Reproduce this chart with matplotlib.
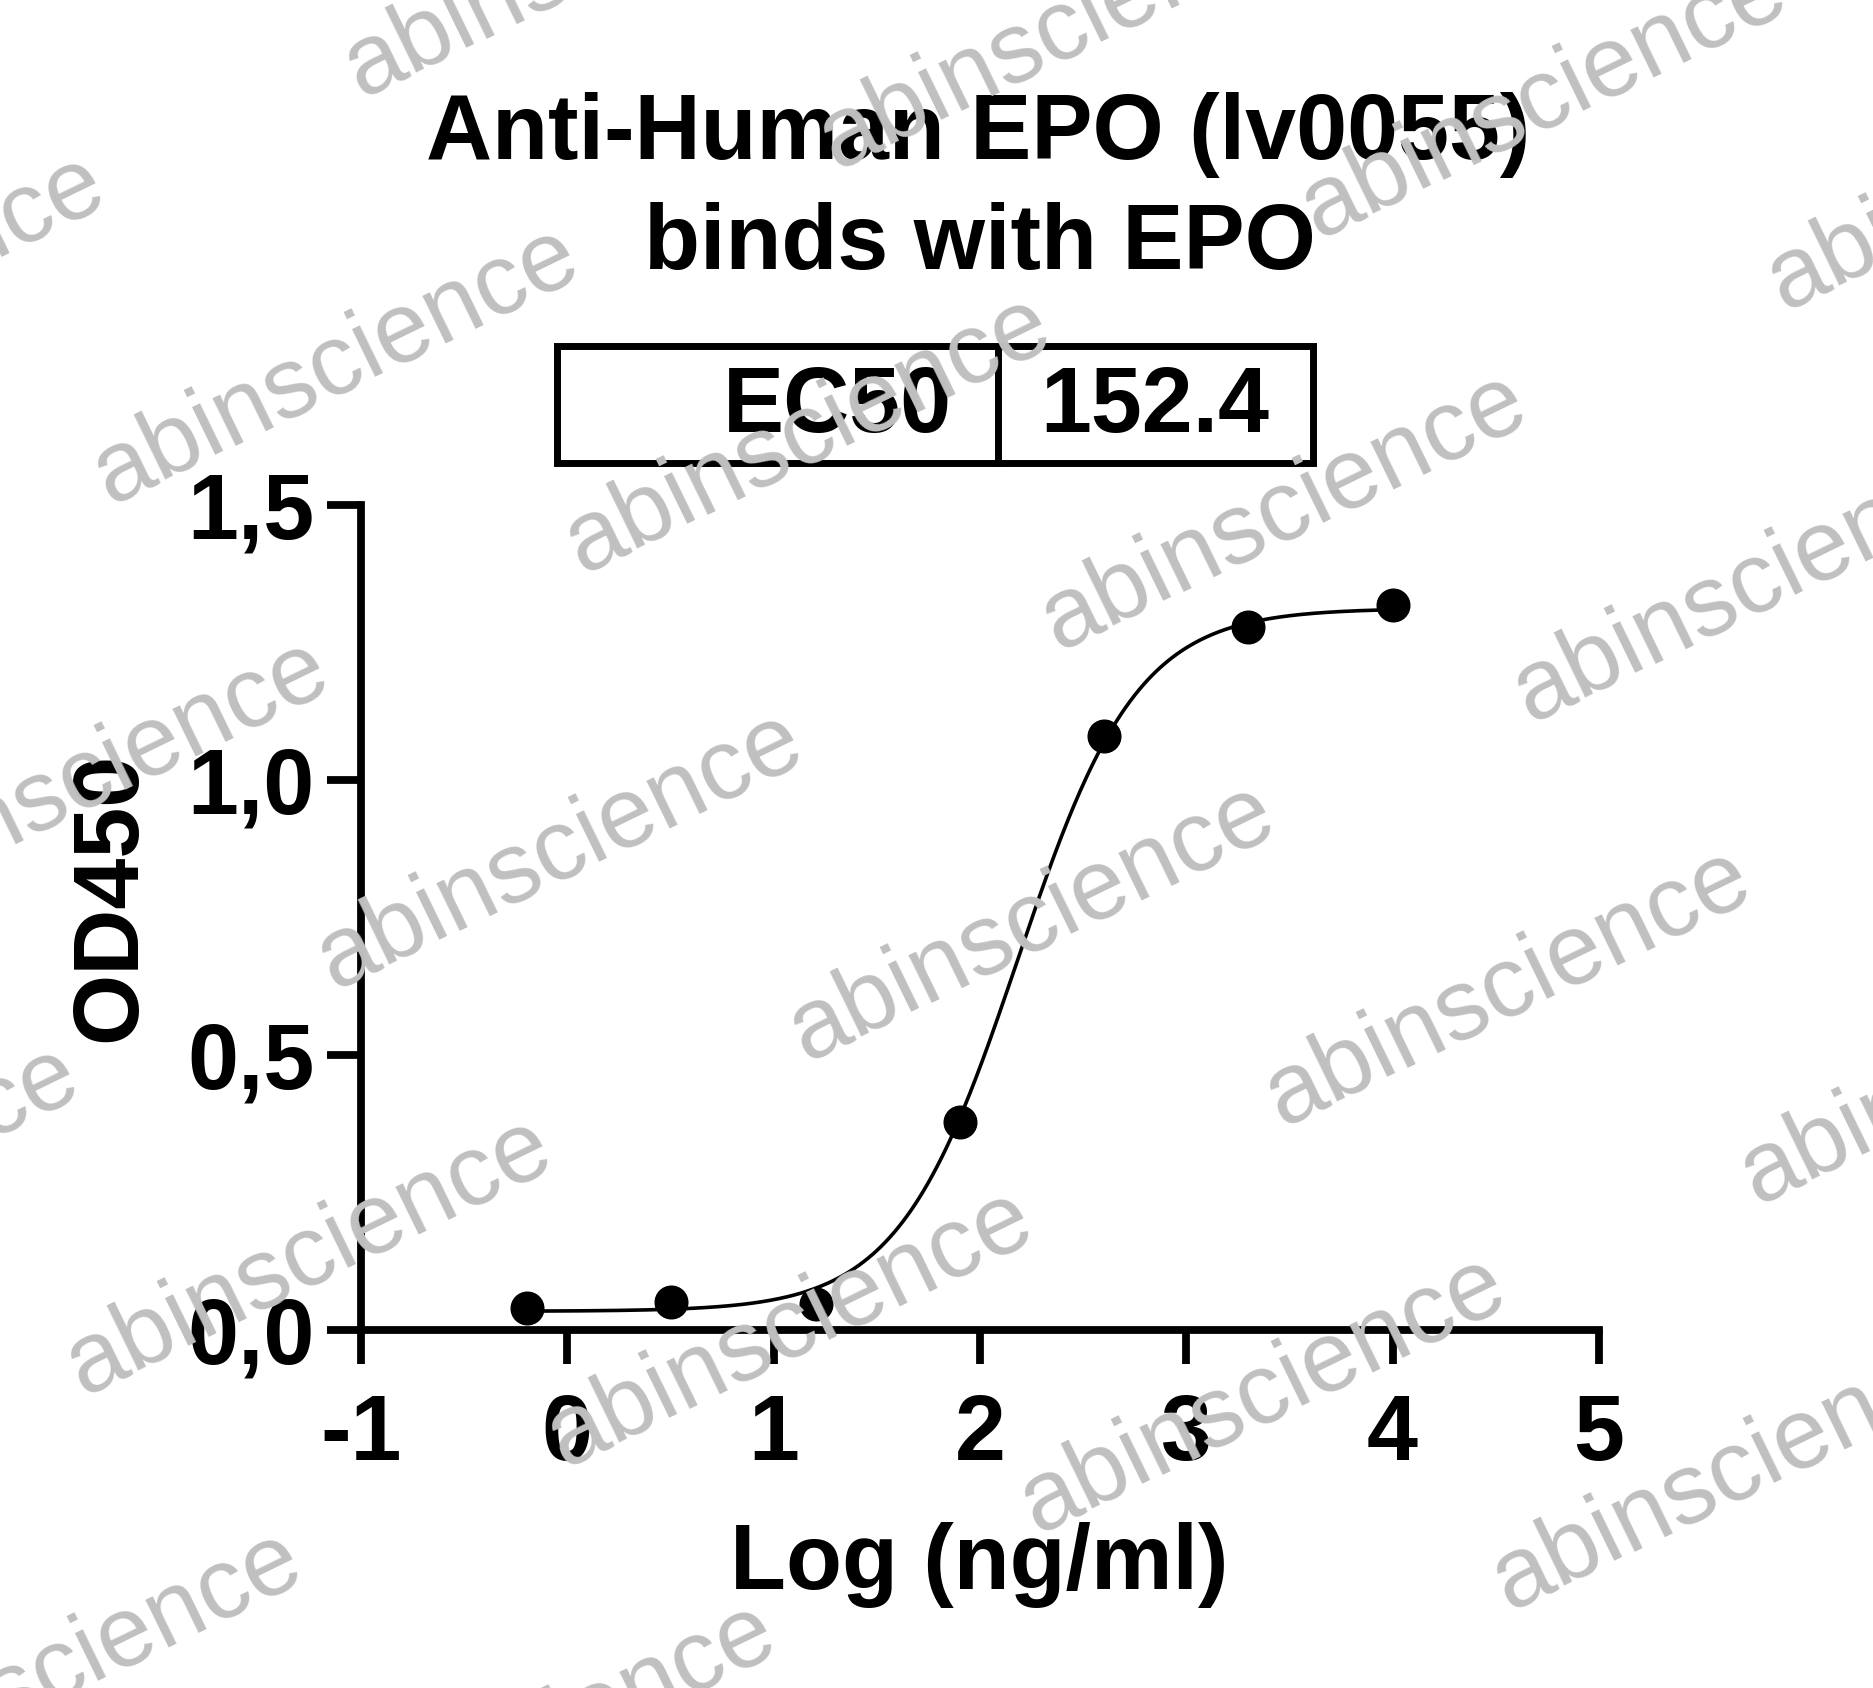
import numpy as np
import matplotlib
matplotlib.use("Agg")
import matplotlib.pyplot as plt
from matplotlib.patches import Rectangle
from matplotlib.lines import Line2D

plt.rcParams['font.family'] = ['Liberation Sans', 'DejaVu Sans']

# data (5-fold dilution from 10000 ng/ml)
log_conc = [-0.194, 0.505, 1.204, 1.903, 2.602, 3.301, 4.0]
od450 = [0.040, 0.051, 0.048, 0.379, 1.080, 1.279, 1.319]

# 4PL fit parameters (EC50 shown in the box)
ec50 = 152.4
bottom = 0.034
top = 1.312
hill = 1.5

x_ticks = [-1, 0, 1, 2, 3, 4, 5]
y_ticks = [0.0, 0.5, 1.0, 1.5]
y_tick_labels = ['0,0', '0,5', '1,0', '1,5']

W, H = 1873, 1688
fig = plt.figure(figsize=(W / 100, H / 100), dpi=100)
ax = fig.add_axes([361 / W, 1 - 1330 / H, (1598.8 - 361) / W, 825 / H])

xs = np.linspace(log_conc[0], log_conc[-1], 400)
fit = bottom + (top - bottom) / (1 + 10 ** ((np.log10(ec50) - xs) * hill))
ax.plot(xs, fit, color='black', lw=2.6, zorder=3)
ax.plot(log_conc, od450, 'o', color='black', ms=23.5, zorder=4, clip_on=False)

ax.set_xlim(-1, 5)
ax.set_ylim(0, 1.5)
ax.set_xticks(x_ticks)
ax.set_xticklabels([str(t) for t in x_ticks])
ax.set_yticks(y_ticks)
ax.set_yticklabels(y_tick_labels)

for s in ['top', 'right']:
    ax.spines[s].set_visible(False)
for s in ['left', 'bottom']:
    ax.spines[s].set_linewidth(5.6)
    ax.spines[s].set_capstyle('projecting')
ax.tick_params(axis='both', width=5.6, length=24.5, color='black')
ax.tick_params(axis='x', pad=21)
ax.tick_params(axis='y', pad=9)
for lab in ax.get_xticklabels() + ax.get_yticklabels():
    lab.set_fontsize(66)
    lab.set_fontweight('bold')

# axis labels and title
fig.text(979 / W, 1 - 1589 / H, 'Log (ng/ml)', ha='center', va='baseline',
         fontsize=66, fontweight='bold')
fig.text(111 / W, 1 - 896.5 / H, 'OD450', ha='center', va='center', rotation=90,
         fontsize=66, fontweight='bold')
fig.text(978 / W, 1 - 158.5 / H, 'Anti-Human EPO (lv0055)', ha='center', va='baseline',
         fontsize=66, fontweight='bold')
fig.text(980 / W, 1 - 269.4 / H, 'binds with EPO', ha='center', va='baseline',
         fontsize=66, fontweight='bold')

# EC50 box
bx0, bx1, by0, by1, bdiv = 556.5, 1313, 346.5, 463, 998
fig.patches.append(Rectangle((bx0 / W, 1 - by1 / H), (bx1 - bx0) / W, (by1 - by0) / H,
                             transform=fig.transFigure, fill=False, lw=5, ec='black'))
fig.lines.append(Line2D([bdiv / W, bdiv / W], [1 - by1 / H, 1 - by0 / H],
                        transform=fig.transFigure, lw=5, color='black'))
fig.text(952 / W, 1 - 431.5 / H, 'EC50', ha='right', va='baseline',
         fontsize=66, fontweight='bold')
fig.text(1040 / W, 1 - 431.5 / H, f'{ec50:.1f}', ha='left', va='baseline',
         fontsize=66, fontweight='bold')

# watermark
marks = [(361.5, 98.6), (836.6, 170), (1318.5, 239), (1784.6, 310.7),
         (-363.4, 433), (110.6, 505), (582.6, 573.7), (1058.5, 651.4), (1530.6, 723),
         (-139.4, 918), (334.6, 990), (806.7, 1061.7), (1282.6, 1127.5), (1757.7, 1205),
         (-390, 1324), (83.7, 1396.4), (564.7, 1468), (1037.6, 1533.8), (1509.7, 1611.5),
         (-166.4, 1809), (307.6, 1881)]
for mx, my in marks:
    fig.text(mx / W, 1 - my / H, 'abinscience', ha='left', va='baseline',
             rotation=26, rotation_mode='anchor', fontsize=72, color='#c0c0c0', zorder=10)

fig.savefig('out.png', dpi=100)
